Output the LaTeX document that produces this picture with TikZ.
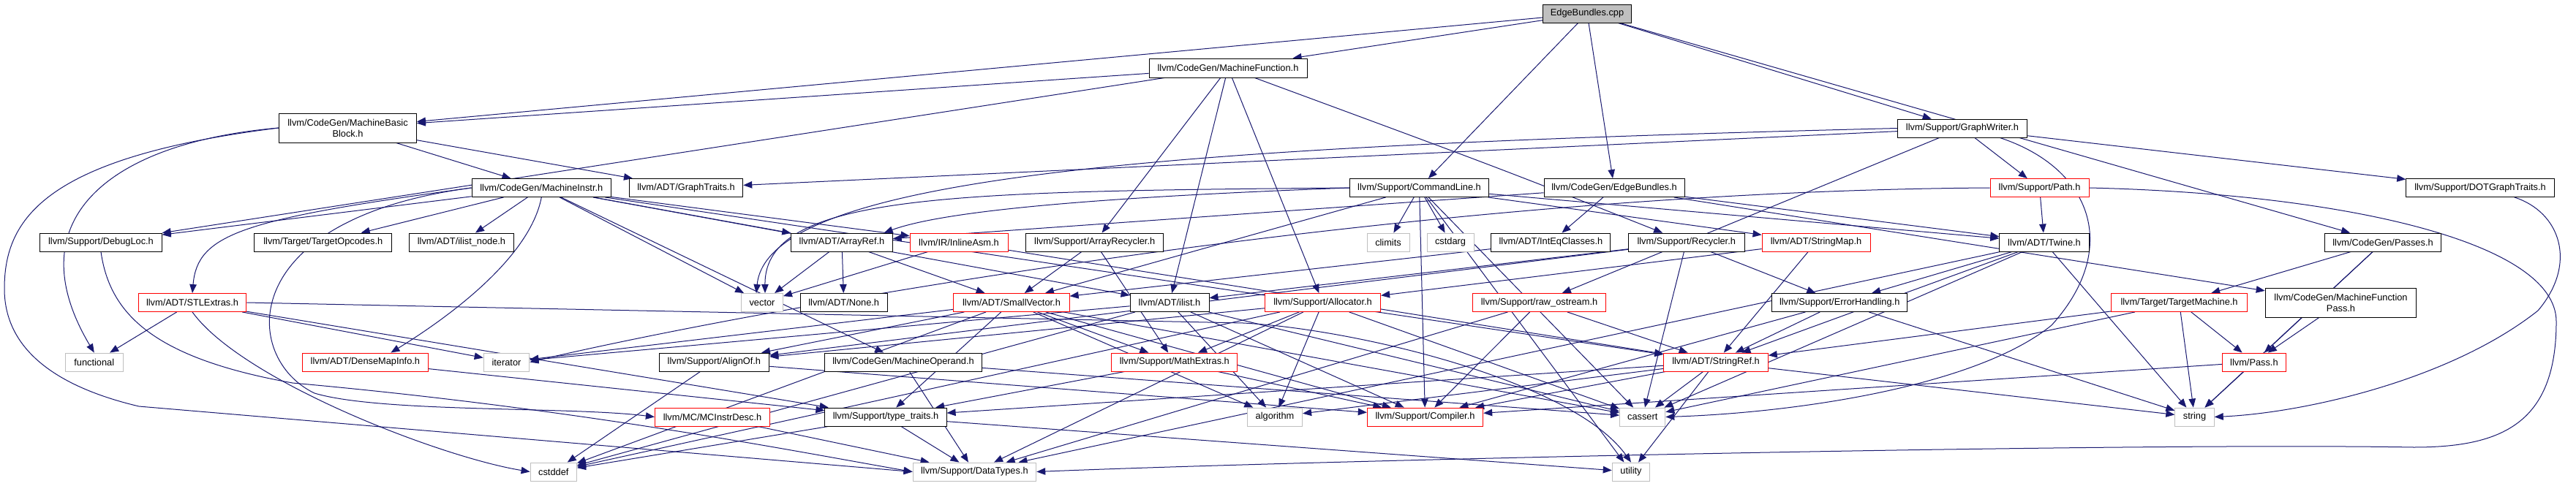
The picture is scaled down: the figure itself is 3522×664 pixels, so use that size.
\documentclass[tikz,border=0pt]{standalone}
\usepackage{fontspec}
\setmainfont{Liberation Sans}
\usetikzlibrary{arrows.meta,backgrounds}
\pgfdeclarelayer{paper}
\pgfsetlayers{paper,background,main}
\definecolor{edgec}{HTML}{191970}
\definecolor{sysc}{HTML}{BFBFBF}
\definecolor{redc}{HTML}{FF0000}
\definecolor{cppfill}{HTML}{BFBFBF}
\newcommand\mknode[6]{\node[#1,minimum width=#2pt] (#3) at (#4,#5) {#6};}
\begin{document}
\begin{tikzpicture}[x=1pt,y=-1pt,
  nb/.style={draw=black, fill=white, line width=0.9pt, inner sep=0pt, minimum height=25pt, font=\fontsize{12.8}{15}\selectfont, align=center},
  sys/.style={nb, draw=sysc},
  trunc/.style={nb, draw=redc},
  ln/.style={draw=edgec, line width=1pt},
  e/.style={ln, -{Triangle[length=12pt,width=9.5pt]}}]
\begin{pgfonlayer}{paper}
\fill[white] (0,0) rectangle (3522,664);
\end{pgfonlayer}
\useasboundingbox (0,0) rectangle (3522,664);
% row 0
\mknode{nb,fill=cppfill}{121}{cpp}{2170}{18.5}{EdgeBundles.cpp}
\mknode{nb,minimum height=26pt}{216}{mf}{1679}{93}{llvm/CodeGen/MachineFunction.h}
\mknode{nb,minimum height=40pt}{188}{mbb}{475.5}{175}{llvm/CodeGen/MachineBasic\\Block.h}
\mknode{nb}{177.5}{gw}{2683}{175.5}{llvm/Support/GraphWriter.h}
% row 257
\mknode{nb}{190.6}{mi}{740.3}{257}{llvm/CodeGen/MachineInstr.h}
\mknode{nb}{155.7}{gt}{938}{257}{llvm/ADT/GraphTraits.h}
\mknode{nb}{190.6}{cl}{1940.5}{257}{llvm/Support/CommandLine.h}
\mknode{nb}{192}{ebh}{2207}{257}{llvm/CodeGen/EdgeBundles.h}
\mknode{trunc}{135}{path}{2788.5}{257}{llvm/Support/Path.h}
\mknode{nb}{202.7}{dot}{3391}{257}{llvm/Support/DOTGraphTraits.h}
% row 331
\mknode{nb}{166.5}{dl}{138}{331.5}{llvm/Support/DebugLoc.h}
\mknode{nb}{188}{to}{441.8}{331.5}{llvm/Target/TargetOpcodes.h}
\mknode{nb}{142.7}{iln}{631}{331.5}{llvm/ADT/ilist\_node.h}
\mknode{nb}{138.5}{aref}{1151}{331.5}{llvm/ADT/ArrayRef.h}
\mknode{trunc}{134}{iasm}{1311}{331.5}{llvm/IR/InlineAsm.h}
\mknode{nb}{188.3}{arec}{1496.7}{331.5}{llvm/Support/ArrayRecycler.h}
\mknode{sys}{58}{climits}{1898}{331.5}{climits}
\mknode{sys}{64}{cstdarg}{1983}{331.5}{cstdarg}
\mknode{nb}{163}{iec}{2120.4}{331.5}{llvm/ADT/IntEqClasses.h}
\mknode{nb}{158.6}{recyc}{2305.7}{331.5}{llvm/Support/Recycler.h}
\mknode{trunc}{148}{smap}{2483}{331.5}{llvm/ADT/StringMap.h}
\mknode{nb}{122.5}{twine}{2795}{331.5}{llvm/ADT/Twine.h}
\mknode{nb}{159}{passes}{3258}{331.5}{llvm/CodeGen/Passes.h}
% row 414
\mknode{trunc}{147.7}{stl}{263}{414}{llvm/ADT/STLExtras.h}
\mknode{sys}{57}{vector}{1042}{414}{vector}
\mknode{nb}{119}{none}{1153.7}{414}{llvm/ADT/None.h}
\mknode{trunc}{158.4}{svec}{1383}{414}{llvm/ADT/SmallVector.h}
\mknode{nb}{108}{ilist}{1599}{414}{llvm/ADT/ilist.h}
\mknode{trunc}{158.3}{alloc}{1808.5}{414}{llvm/Support/Allocator.h}
\mknode{trunc}{181.8}{rawos}{2104.5}{414}{llvm/Support/raw\_ostream.h}
\mknode{nb}{185.2}{errh}{2515.2}{414}{llvm/Support/ErrorHandling.h}
\mknode{trunc}{186.3}{tm}{2979.5}{414}{llvm/Target/TargetMachine.h}
\mknode{nb,minimum height=40pt}{206.7}{mfp}{3200.5}{414}{llvm/CodeGen/MachineFunction\\Pass.h}
% row 495
\mknode{sys}{79.2}{functional}{128.8}{495.5}{functional}
\mknode{trunc}{172}{dmi}{499.4}{495.5}{llvm/ADT/DenseMapInfo.h}
\mknode{sys}{62.8}{iterator}{692.5}{495.5}{iterator}
\mknode{nb}{150.8}{alignof}{976.4}{495.5}{llvm/Support/AlignOf.h}
\mknode{nb}{214.5}{mop}{1235}{495.5}{llvm/CodeGen/MachineOperand.h}
\mknode{trunc}{172.2}{mathx}{1605.8}{495.5}{llvm/Support/MathExtras.h}
\mknode{trunc}{142.6}{sref}{2346}{495.5}{llvm/ADT/StringRef.h}
\mknode{trunc}{86.9}{pass}{3081.9}{495.5}{llvm/Pass.h}
% row 570
\mknode{trunc}{157.3}{mcid}{974}{570.5}{llvm/MC/MCInstrDesc.h}
\mknode{nb}{166.3}{tt}{1211}{570.5}{llvm/Support/type\_traits.h}
\mknode{sys}{75.3}{algorithm}{1743}{570.5}{algorithm}
\mknode{trunc}{158.5}{compiler}{1948.5}{570.5}{llvm/Support/Compiler.h}
\mknode{sys}{62.4}{cassert}{2245.7}{570.5}{cassert}
\mknode{sys}{53.5}{string}{3000.5}{570.5}{string}
% row 645
\mknode{sys}{63.5}{cstddef}{756.8}{645.5}{cstddef}
\mknode{sys}{168.8}{dt}{1332.4}{645.5}{llvm/Support/DataTypes.h}
\mknode{sys}{51.6}{utility}{2230}{645.5}{utility}
% waypoints
\coordinate (wpA) at (6,395);
\coordinate (wpB) at (190,556);
\coordinate (wpC) at (3495,440);
\coordinate (wpD) at (3300,612);
\coordinate (wpE) at (2805,445);
\coordinate (wpF) at (3470,425);
\coordinate (wpG) at (430,538);
\coordinate (wpH) at (400,524);
\coordinate (wpI) at (1700,442);
\begin{scope}[on background layer]
\foreach \a/\b in {cpp/mbb, cpp/mf, cpp/cl, cpp/ebh, cpp/gw, cpp/passes,
 mf/mbb, mf/dl, mf/arec, mf/ilist, mf/alloc,
 mbb/gt, mbb/mi,
 gw/gt, gw/path, gw/dot, gw/rawos,
 mi/to, mi/iln, mi/mop, mi/vector, mi/aref, mi/dl, mi/iasm, mi/ilist, mi/sref,
 cl/svec, cl/smap, cl/twine, cl/compiler, cl/cassert, cl/climits, cl/cstdarg, cl/utility,
 ebh/iec, ebh/twine, ebh/mfp, ebh/aref,
 path/twine,
 aref/none, aref/svec, aref/vector,
 iasm/vector, iasm/sref,
 arec/svec, arec/mathx,
 iec/svec,
 recyc/ilist, recyc/alignof, recyc/errh, recyc/cassert,
 smap/sref, smap/alloc,
 twine/errh, twine/sref, twine/dt, twine/cassert, twine/string,
 passes/tm, passes/pass, passes/string,
 stl/functional, stl/iterator, stl/tt,
 dmi/tt,
 svec/alignof, svec/compiler, svec/mathx, svec/tt, svec/algorithm, svec/cassert, svec/cstddef, svec/iterator,
 ilist/compiler, ilist/algorithm, ilist/cassert, ilist/cstddef, ilist/iterator,
 alloc/alignof, alloc/dt, alloc/mathx, alloc/algorithm, alloc/cassert, alloc/cstddef,
 rawos/sref, rawos/compiler, rawos/dt,
 errh/sref, errh/compiler, errh/string,
 tm/sref, tm/pass, tm/string, tm/cassert,
 mfp/pass,
 mop/dt, mop/cassert,
 alignof/cstddef, alignof/compiler,
 mathx/tt, mathx/compiler,
 sref/tt, sref/algorithm, sref/cassert, sref/string, sref/utility, sref/compiler,
 mcid/dt,
 tt/dt, tt/cstddef, tt/utility,
 pass/compiler, pass/string}
 {\draw[e] (\a) -- (\b);}
% routed connectors
\draw[e] (mbb.west) .. controls (150,195) and (20,300) .. (functional.north);
\draw[ln] (mbb.west) .. controls (60,215) and (6,300) .. (wpA) .. controls (6,480) and (80,530) .. (wpB);
\draw[e] (wpB) -- (dt.west);
\draw[ln] (path.east) .. controls (3200,265) and (3495,330) .. (wpC) .. controls (3495,580) and (3420,612) .. (wpD);
\draw[e] (wpD) .. controls (2900,605) and (1800,630) .. (dt.east);
\draw[ln] ([xshift=-38pt]gw.south east) .. controls (2860,230) and (2900,340) .. (wpE);
\draw[e] (wpE) .. controls (2700,530) and (2450,565) .. (cassert.east);
\draw[e] (mf) .. controls (2050,230) .. (recyc);
\draw[ln] ([xshift=-55pt]dot.south east) .. controls (3500,290) and (3525,360) .. (wpF);
\draw[e] (wpF) .. controls (3350,520) and (3150,565) .. (string.east);
\draw[e] (gw.west) .. controls (1600,200) and (1050,240) .. ([xshift=-8pt]vector.north);
\draw[e] (cl.west) .. controls (1300,262) and (1045,265) .. ([xshift=4pt]vector.north);
\draw[e] (cl.west) .. controls (1550,268) and (1300,285) .. ([xshift=-12pt]aref.north east);
\draw[e] (mi.west) .. controls (330,300) and (270,320) .. (stl.north);
\draw[ln] (mi.west) .. controls (320,300) and (330,490) .. (wpG);
\draw[e] (wpG) .. controls (520,565) and (780,556) .. (mcid.west);
\draw[e] (mi.south) .. controls (725,350) and (620,430) .. ([xshift=35pt]dmi.north);
\draw[ln] (dl.south) .. controls (150,430) and (210,490) .. (wpH);
\draw[e] (wpH) .. controls (800,560) and (1100,620) .. (dt.west);
\draw[e] (stl.south) .. controls (330,520) and (600,625) .. (cstddef.west);
\draw[ln] (stl.east) -- (wpI);
\draw[e] (wpI) .. controls (1850,450) and (2150,520) .. (utility.north);
\draw[e] (path.west) .. controls (1900,262) and (1000,430) .. (iterator.east);
\end{scope}
\end{tikzpicture}
\end{document}
